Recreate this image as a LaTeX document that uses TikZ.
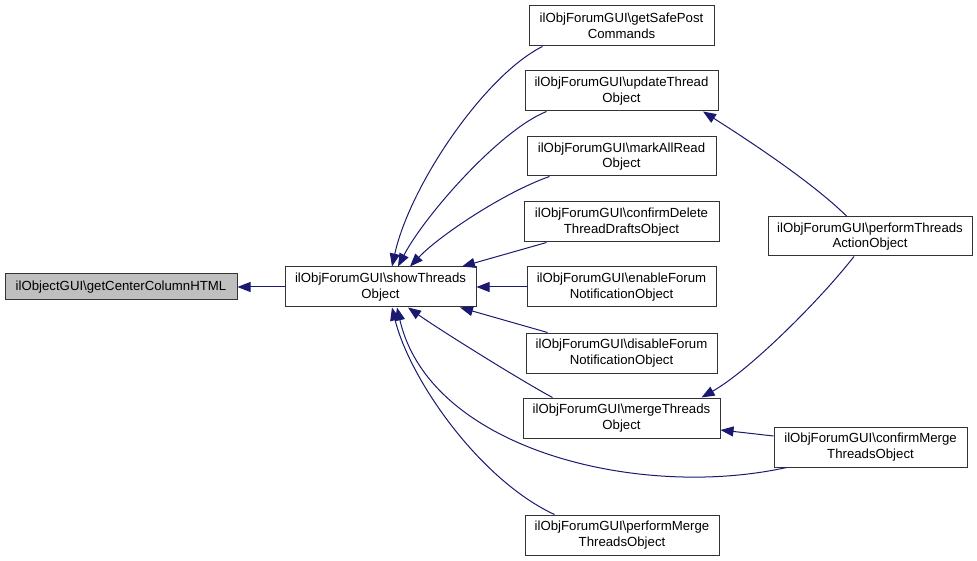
\documentclass[tikz,border=0pt]{standalone}
\usepackage{fontspec}
\setmainfont{Liberation Sans}
\usetikzlibrary{arrows.meta}
\definecolor{edgeblue}{HTML}{191970}
\definecolor{boxline}{HTML}{333333}
\definecolor{hilite}{HTML}{BFBFBF}
\begin{document}
\begin{tikzpicture}[x=1pt,y=-1pt,
  box/.style={draw=boxline,line width=1pt,fill=white,inner sep=0pt,align=center,
    font=\fontsize{13.2pt}{15.5pt}\selectfont,minimum height=40pt},
  edge/.style={draw=edgeblue,line width=1pt,-{Triangle[length=13pt,width=10pt]}}]
\useasboundingbox (0,0) rectangle (977,561);
\node[box,fill=hilite,minimum width=232pt,minimum height=26pt] (gc) at (121,287) {ilObjectGUI\textbackslash getCenterColumnHTML};
\node[box,minimum width=191pt] (st) at (380.5,287) {ilObjForumGUI\textbackslash showThreads\\Object};
\node[box,minimum width=185pt] (gs) at (621.5,26) {ilObjForumGUI\textbackslash getSafePost\\Commands};
\node[box,minimum width=193pt] (ut) at (621.5,91) {ilObjForumGUI\textbackslash updateThread\\Object};
\node[box,minimum width=189pt,minimum height=39pt] (ma) at (621.5,156.5) {ilObjForumGUI\textbackslash markAllRead\\Object};
\node[box,minimum width=195pt] (cd) at (621.5,222) {ilObjForumGUI\textbackslash confirmDelete\\ThreadDraftsObject};
\node[box,minimum width=189pt] (ef) at (621.5,287) {ilObjForumGUI\textbackslash enableForum\\NotificationObject};
\node[box,minimum width=191pt] (df) at (621.5,353) {ilObjForumGUI\textbackslash disableForum\\NotificationObject};
\node[box,minimum width=197pt] (mt) at (621.5,418) {ilObjForumGUI\textbackslash mergeThreads\\Object};
\node[box,minimum width=194pt] (pm) at (622,535) {ilObjForumGUI\textbackslash performMerge\\ThreadsObject};
\node[box,minimum width=204pt,minimum height=39pt] (pt) at (870,236.5) {ilObjForumGUI\textbackslash performThreads\\ActionObject};
\node[box,minimum width=193pt] (cm) at (870.5,447) {ilObjForumGUI\textbackslash confirmMerge\\ThreadsObject};
% edges
\draw[edge] (st.west) -- (gc.east);
\draw[edge] ([xshift=14pt]gs.south west) .. controls (485,75) and (410,185) .. ([xshift=11.5pt]st.north);
\draw[edge] ([xshift=22pt]ut.south west) .. controls (500,130) and (425,215) .. ([xshift=17.5pt]st.north);
\draw[edge] ([xshift=23pt]ma.south west) .. controls (505,192) and (440,235) .. ([xshift=29.5pt]st.north);
\draw[edge] ([xshift=23pt]cd.south west) -- ([xshift=81.5pt]st.north);
\draw[edge] (ef.west) -- (st.east);
\draw[edge] ([xshift=22pt]df.north west) -- ([xshift=79.5pt]st.south);
\draw[edge] ([xshift=30pt]mt.north west) .. controls (520,380) and (440,330) .. ([xshift=27.5pt]st.south);
\draw[edge] ([xshift=13pt]cm.south west) .. controls (640,500) and (430,450) .. ([xshift=16.5pt]st.south);
\draw[edge] ([xshift=30pt]pm.north west) .. controls (480,480) and (410,380) .. ([xshift=11.5pt]st.south);
\draw[edge] ([xshift=-23pt]pt.north) .. controls (810,180) and (740,135) .. ([xshift=81.5pt]ut.south);
\draw[edge] ([xshift=-16pt]pt.south) .. controls (820,300) and (750,370) .. ([xshift=80pt]mt.north);
\draw[edge] ([yshift=11pt]cm.west) -- ([yshift=-12pt]mt.east);
\end{tikzpicture}
\end{document}
